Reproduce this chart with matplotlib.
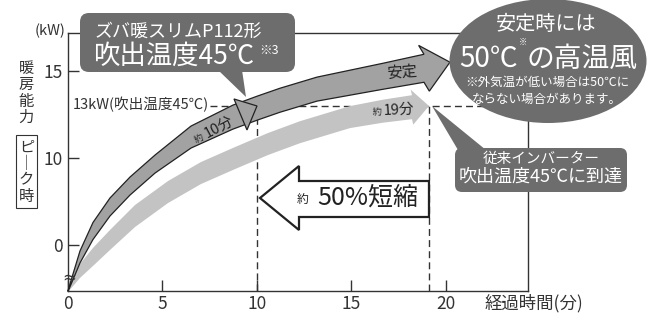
import numpy as np
import matplotlib
matplotlib.use('Agg')
import matplotlib.pyplot as plt
from matplotlib.patches import Polygon, FancyBboxPatch, Ellipse, Rectangle

plt.rcParams['font.family'] = ['Noto Sans CJK JP', 'DejaVu Sans']

# ---------------- data ----------------
x_ticks = [0, 5, 10, 15, 20]
y_ticks = [0, 10, 15]
x_range = (0, 24.34)
y_range = (-5.3, 17.2)

# ズバ暖スリム (吹出温度45℃) : elapsed minutes / kW (last point = arrow tip)
new_t = [0, 0.635, 1.323, 2.222, 3.280, 4.603, 6.508, 8.730, 10.0, 11.217, 13.175, 16.667, 18.836, 20.21]
new_kw = [-5.3, -1.38, 1.61, 4.37, 6.78, 9.31, 11.21, 12.36, 12.87, 13.33, 13.97, 14.71, 15.17, 15.52]
# 従来インバーター
old_t = [0, 0.635, 1.323, 2.222, 3.545, 5.291, 7.037, 8.836, 10.582, 12.275, 14.921, 16.667, 18.201, 19.1]
old_kw = [-5.3, -2.99, -1.38, 0.57, 3.33, 6.09, 8.28, 10.0, 10.81, 11.49, 12.36, 12.70, 12.93, 13.0]

target_kw = 13
new_reach = 10
old_reach = 19.1
ref_line_start = 7.5

# ---------------- styles ----------------
W, H = 656, 315
TXT = '#333333'
DARK_BAND = '#a2a2a2'
LIGHT_BAND = '#c3c3c3'
BOX = '#6d6d6d'
new_hw = [0.5, 6, 8.5, 9, 9, 9, 11, 12, 12, 12, 12, 13, 14]
old_hw = [1, 7, 9, 10, 11, 11, 11, 11, 11, 11, 11, 11.5, 12]

fig = plt.figure(figsize=(W / 100, H / 100), dpi=100)
fig.patch.set_facecolor('white')
ax = fig.add_axes([68 / W, (H - 291) / H, 460 / W, 258 / H])


def fwd(y):
    y = np.asarray(y, float)
    return np.where(y >= 10, y, 10 - (10 - y) * 0.5)


def inv(u):
    u = np.asarray(u, float)
    return np.where(u >= 10, u, 10 - (10 - u) * 2.0)


ax.set_yscale('function', functions=(fwd, inv))
ax.set_xlim(*x_range)
ax.set_ylim(*y_range)
ax.set_xticks(x_ticks)
ax.set_xticklabels([str(v) for v in x_ticks])
ax.set_yticks(y_ticks)
ax.set_yticklabels([str(v) for v in y_ticks])
ax.tick_params(direction='in', length=8, width=1, colors=TXT, labelsize=12.5, pad=3)
ax.tick_params(axis='y', pad=4)
for s in ax.spines.values():
    s.set_linewidth(1.0)
    s.set_color(TXT)
ax.set_facecolor('none')

dash = (0, (5, 3))
ax.plot([ref_line_start, x_range[1]], [target_kw, target_kw], ls=dash, lw=1, color=TXT, zorder=1)
ax.plot([new_reach, new_reach], [y_range[0], target_kw], ls=dash, lw=1, color=TXT, zorder=1)
ax.plot([old_reach, old_reach], [y_range[0], target_kw], ls=dash, lw=1, color=TXT, zorder=1)

# overlay in pixel coordinates (y down)
ov = fig.add_axes([0, 0, 1, 1])
ov.set_xlim(0, W)
ov.set_ylim(H, 0)
ov.axis('off')


def to_px(t, kw):
    d = ax.transData.transform(np.column_stack([np.atleast_1d(t), np.atleast_1d(kw)]))
    return np.column_stack([d[:, 0], H - d[:, 1]])


def band(t, kw, hw, head_hw, **style):
    pts = to_px(t, kw)
    body, tip = pts[:-1], pts[-1]
    base = body[-1]
    hw = np.asarray(hw, float)
    upper = body.copy()
    upper[:, 1] -= hw
    lower = body.copy()
    lower[:, 1] += hw
    d = tip - base
    d = d / np.hypot(*d)
    n = np.array([d[1], -d[0]])
    poly = np.vstack([upper, base + n * head_hw, tip, base - n * head_hw, lower[::-1]])
    ov.add_patch(Polygon(poly, closed=True, **style))


band(old_t, old_kw, old_hw, 17.5, fc=LIGHT_BAND, ec='none', zorder=2)
band(new_t, new_kw, new_hw, 23.5, fc=DARK_BAND, ec='#222222', lw=0.9, zorder=3)

# triangle marker at 10 min / 13 kW
tp = to_px(new_reach, target_kw)[0]
ov.add_patch(Polygon([tp, tp + [-23, -7], tp + [-10, 24]], closed=True,
                     fc=DARK_BAND, ec='#222222', lw=0.9, zorder=4))

# texts on bands
ov.text(199, 139, '約', fontsize=6.5, rotation=28, ha='center', va='center', color='#222', zorder=5)
ov.text(219, 127, '10分', fontsize=10.5, rotation=28, ha='center', va='center', color='#222', zorder=5)
ov.text(402, 72, '安定', fontsize=11, rotation=4, ha='center', va='center', color='#222', zorder=5)
ov.text(377, 112, '約', fontsize=6.5, rotation=3, ha='center', va='center', color='#222', zorder=5)
ov.text(399, 110, '19分', fontsize=10.5, rotation=3, ha='center', va='center', color='#222', zorder=5)

# big white arrow (約50%短縮) between the two reach times
xa = to_px(new_reach, target_kw)[0][0] + 3
xb = to_px(old_reach, target_kw)[0][0]
arrow = [(xa, 198), (299, 166), (299, 181), (xb, 181), (xb, 217), (299, 217), (299, 230)]
ov.add_patch(Polygon(arrow, closed=True, fc='white', ec='#222', lw=1.6, zorder=4))
ov.text(303, 200, '約', fontsize=8.5, ha='center', va='center', color='#222', zorder=5)
ov.text(368, 198, '50%短縮', fontsize=18, ha='center', va='center', color='#222', zorder=5)

# top-left callout
ov.add_patch(Polygon([(218, 70), (242, 70), (246, 97)], closed=True, fc=BOX, ec='none', zorder=6))
ov.add_patch(FancyBboxPatch((80, 13), 215, 59, boxstyle='round,pad=0,rounding_size=9',
                            fc=BOX, ec='none', zorder=6))
ov.text(95, 32, 'ズバ暖スリムP112形', fontsize=13, ha='left', va='center', color='white', zorder=7)
ov.text(93, 56, '吹出温度45℃', fontsize=19, ha='left', va='center', color='white', zorder=7)
ov.text(259, 50, '※3', fontsize=9, ha='left', va='center', color='white', zorder=7)

# ellipse
ov.add_patch(Ellipse((548, 61), 197, 124, fc=BOX, ec='none', zorder=6))
ov.text(546, 25, '安定時には', fontsize=14.5, ha='center', va='center', color='white', zorder=7)
ov.text(518, 59, '50℃', fontsize=20, ha='right', va='center', color='white', zorder=7)
ov.text(522.5, 42, '※', fontsize=6, ha='center', va='center', color='white', zorder=7)
ov.text(527, 59, 'の高温風', fontsize=20, ha='left', va='center', color='white', zorder=7)
ov.text(547, 82, '※外気温が低い場合は50℃に', fontsize=9, ha='center', va='center', color='white', zorder=7)
ov.text(547, 99, 'ならない場合があります。', fontsize=9, ha='center', va='center', color='white', zorder=7)

# lower-right callout
ov.add_patch(Polygon([(432, 106), (458, 150), (486, 150)], closed=True, fc=BOX, ec='none', zorder=6))
ov.add_patch(FancyBboxPatch((455, 148), 172, 44, boxstyle='round,pad=0,rounding_size=7',
                            fc=BOX, ec='none', zorder=6))
ov.text(541, 159, '従来インバーター', fontsize=10.5, ha='center', va='center', color='white', zorder=7)
ov.text(541, 177, '吹出温度45℃に到達', fontsize=13, ha='center', va='center', color='white', zorder=7)

# axis texts
ov.text(66, 31, '(kW)', fontsize=10.5, ha='right', va='center', color=TXT)
ov.text(73, 105, '13kW(吹出温度45℃)', fontsize=10.5, ha='left', va='center', color=TXT, zorder=1)
ov.text(485, 303, '経過時間(分)', fontsize=12.5, ha='left', va='center', color=TXT)
ov.text(26, 93, '暖\n房\n能\n力', fontsize=11, ha='center', va='center', color=TXT,
        linespacing=0.95)
ov.add_patch(Rectangle((16, 135), 21, 73, fc='white', ec=TXT, lw=0.8))
ov.text(26.5, 172, 'ピ\n｜\nク\n時', fontsize=11, ha='center', va='center', color=TXT,
        linespacing=0.95)
ov.text(69, 277, '≈', fontsize=12, ha='center', va='center', color=TXT, family='DejaVu Sans', zorder=8)

fig.savefig('out.png', dpi=100, facecolor='white')
